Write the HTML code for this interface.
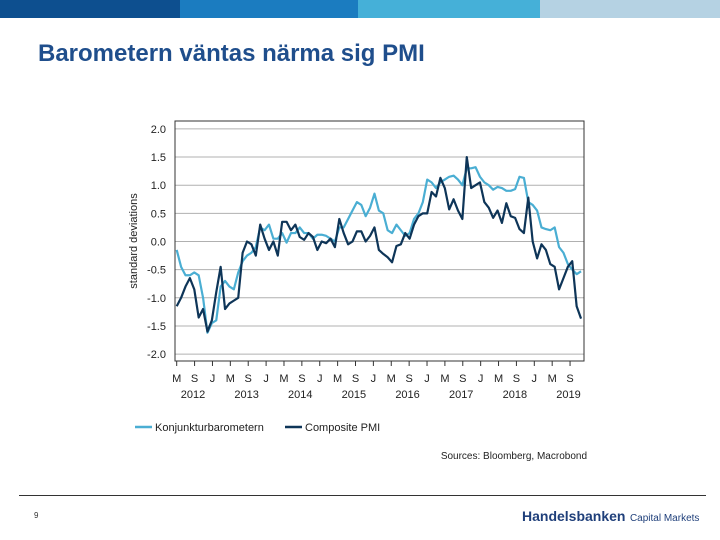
<!DOCTYPE html>
<html><head><meta charset="utf-8"><style>
body{margin:0;width:720px;height:540px;background:#fff;font-family:"Liberation Sans",sans-serif;overflow:hidden;position:relative}
.bar{position:absolute;top:0;height:18px}
</style></head><body>
<div class="bar" style="left:0;width:180px;background:#0d4f8f"></div>
<div class="bar" style="left:180px;width:178px;background:#1b7cc0"></div>
<div class="bar" style="left:358px;width:182px;background:#45b0d8"></div>
<div class="bar" style="left:540px;width:180px;background:#b5d2e3"></div>
<div style="position:absolute;left:38px;top:40px;font-size:24px;font-weight:bold;color:#1f4e8c">Barometern väntas närma sig PMI</div>
<svg id="chart" width="720" height="540" style="position:absolute;left:0;top:0" font-family="Liberation Sans, sans-serif"></svg>
<div style="position:absolute;left:19px;top:495px;width:687px;height:1px;background:#333"></div>
<div style="position:absolute;left:34px;top:511px;font-size:8px;color:#333">9</div>
<div style="position:absolute;left:522px;top:508px;color:#1f3f7a;white-space:nowrap"><span style="font-size:14px;font-weight:bold">Handelsbanken</span> <span style="font-size:10px">Capital Markets</span></div>
<script>
const kbValues=[-0.15,-0.45,-0.6,-0.6,-0.55,-0.6,-1.0,-1.62,-1.45,-1.4,-0.8,-0.7,-0.8,-0.85,-0.55,-0.35,-0.25,-0.2,-0.1,0.25,0.2,0.3,0.05,0.05,0.15,-0.02,0.15,0.15,0.25,0.15,0.15,0.05,0.12,0.12,0.1,0.05,0.0,0.25,0.25,0.4,0.55,0.7,0.65,0.45,0.6,0.85,0.55,0.5,0.2,0.15,0.3,0.2,0.1,0.15,0.4,0.5,0.7,1.1,1.05,0.95,1.05,1.1,1.15,1.17,1.1,1.0,1.3,1.3,1.32,1.15,1.05,1.0,0.92,0.97,0.95,0.9,0.9,0.93,1.15,1.13,0.7,0.65,0.55,0.25,0.22,0.2,0.25,-0.1,-0.2,-0.4,-0.5,-0.58,-0.53];
const pmiValues=[-1.15,-1.0,-0.8,-0.65,-0.85,-1.35,-1.2,-1.6,-1.4,-0.9,-0.45,-1.2,-1.1,-1.05,-1.0,-0.2,0.0,-0.05,-0.25,0.3,0.05,-0.15,0.0,-0.25,0.35,0.35,0.2,0.3,0.08,0.03,0.15,0.08,-0.15,0.0,-0.03,0.05,-0.1,0.4,0.15,-0.05,0.0,0.18,0.18,0.0,0.1,0.25,-0.15,-0.22,-0.28,-0.37,-0.08,-0.05,0.15,0.05,0.3,0.45,0.5,0.5,0.88,0.8,1.13,0.95,0.57,0.75,0.55,0.4,1.5,0.95,1.0,1.05,0.7,0.6,0.42,0.55,0.33,0.68,0.45,0.42,0.22,0.15,0.78,0.0,-0.3,-0.05,-0.15,-0.4,-0.45,-0.85,-0.65,-0.45,-0.35,-1.15,-1.37];
const yTicks=[2.0,1.5,1.0,0.5,0.0,-0.5,-1.0,-1.5,-2.0];
const monthLabels=["M","S","J","M","S","J","M","S","J","M","S","J","M","S","J","M","S","J","M","S","J","M","S"];
const yearLabels=["2012","2013","2014","2015","2016","2017","2018","2019"];
const svg=document.getElementById('chart');
const NS='http://www.w3.org/2000/svg';
const X0=176.7,DX=4.395,Y0=241.5,DY=56.3;
const xS=i=>X0+i*DX, yS=v=>Y0-v*DY;
const TICK_STEP=17.88; // 4 months in px on the time axis
function mk(t,a,p){const e=document.createElementNS(NS,t);for(const k in a)e.setAttribute(k,a[k]);(p||svg).appendChild(e);return e;}
yTicks.forEach(v=>{
  const g=mk('line',{x1:175,x2:584,y1:yS(v),y2:yS(v),stroke:'#b0b0b0','stroke-width':1});
  
  
  const t=mk('text',{x:166,y:yS(v)+4,'text-anchor':'end','font-size':11,fill:'#222'});
  t.textContent=v.toFixed(1);
  
  
});
const fr=mk('rect',{x:175,y:121,width:409,height:240,fill:'none',stroke:'#333','stroke-width':1});


monthLabels.forEach((m,k)=>{
  const x=X0+k*TICK_STEP;
  const tk=mk('line',{x1:x,x2:x,y1:361,y2:366,stroke:'#333'});
  
  
  const t=mk('text',{x:x,y:382,'text-anchor':'middle','font-size':11,fill:'#222'});
  t.textContent=m;
  
  
});
yearLabels.forEach((y,k)=>{
  const x=193+k*TICK_STEP*3;
  const t=mk('text',{x:x,y:398,'text-anchor':'middle','font-size':11,fill:'#222'});
  t.textContent=y;
  
  
});
const yl=mk('text',{x:0,y:0,transform:'translate(137,241) rotate(-90)','text-anchor':'middle','font-size':11,fill:'#222'});
yl.textContent='standard deviations';


function line(vals,col,name){
  const p=mk('polyline',{points:vals.map((v,i)=>xS(i)+','+yS(v)).join(' '),fill:'none',stroke:col,'stroke-width':2.2,'stroke-linejoin':'round'});
  
  
}
line(kbValues,'#4aaed3','konjunkturbarometern-line');
line(pmiValues,'#0e3558','composite-pmi-line');
[[135,'#4aaed3','Konjunkturbarometern'],[285,'#0e3558','Composite PMI']].forEach(([x,c,n])=>{
  const l=mk('line',{x1:x,x2:x+17,y1:427,y2:427,stroke:c,'stroke-width':2.5});
  
  
  const t=mk('text',{x:x+20,y:431,'font-size':11,fill:'#222'});
  t.textContent=n;
  
  
});
const s=mk('text',{x:587,y:459,'text-anchor':'end','font-size':10,fill:'#222'});
s.textContent='Sources: Bloomberg, Macrobond';


</script>
</body></html>
